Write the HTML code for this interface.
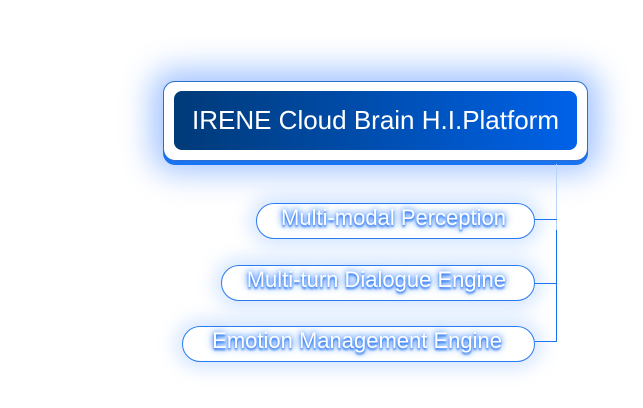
<!DOCTYPE html>
<html><head><style>
body{margin:0;width:643px;height:408px;background:#fff;position:relative;overflow:hidden;font-family:"Liberation Sans",sans-serif}
.main{position:absolute;left:163px;top:81px;width:423px;height:78px;background:#fff;border:1px solid #2a6fd0;border-radius:12px;box-shadow:0 4px 0 #1a73f0,0 0 30px 12px rgba(60,130,255,0.45)}
.inner{position:absolute;left:10px;top:9px;width:403px;height:59px;border-radius:8px;background:linear-gradient(90deg,#003a78,#0062e8);color:#fff;font-size:26px;line-height:59px;text-align:center}
.pill{position:absolute;height:34px;border:1px solid #2a7af0;border-radius:18px;background:rgba(255,255,255,0.6);box-shadow:0 0 18px 6px rgba(80,150,255,0.25);color:#fff;font-size:22px;line-height:28px;text-align:right;text-shadow:0 2px 2px #1a6cf0,0 0 6px #3a86ff,0 0 10px #5a9aff;white-space:nowrap}
.l{position:absolute;background:#1a73f0}
</style></head><body>
<div class="main"><div class="inner">IRENE Cloud Brain H.I.Platform</div></div>
<div class="l" style="left:556px;top:164px;width:1px;height:178px;background:#b8d4fa"></div>
<div class="l" style="left:556px;top:230px;width:1px;height:112px"></div>
<div class="l" style="left:535px;top:219px;width:22px;height:1px"></div>
<div class="l" style="left:535px;top:283px;width:22px;height:1px"></div>
<div class="l" style="left:535px;top:341px;width:22px;height:1px"></div>
<div class="pill" style="left:256px;top:203px;width:249px;padding-right:28px">Multi-modal Perception</div>
<div class="pill" style="left:221px;top:265px;width:284px;padding-right:28px">Multi-turn Dialogue Engine</div>
<div class="pill" style="left:182px;top:326px;width:319px;padding-right:32px">Emotion Management Engine</div>
</body></html>
